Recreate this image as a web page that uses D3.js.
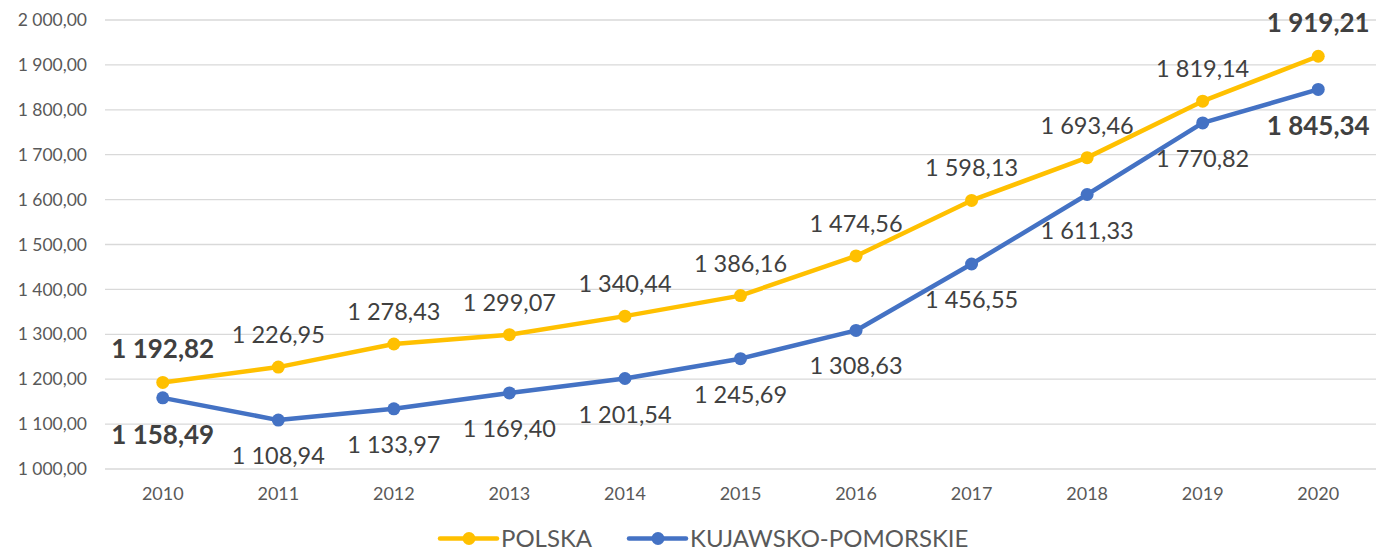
<!DOCTYPE html>
<html><head><meta charset="utf-8">
<script src="https://cdn.jsdelivr.net/npm/d3@7"></script>
<style>body{margin:0;background:#fff;} text{font-family:Lato,"Open Sans",sans-serif;}</style>
</head><body>
<svg id="c" width="1376" height="552"></svg>
<script>
const years = ["2010","2011","2012","2013","2014","2015","2016","2017","2018","2019","2020"];
const polska = [1192.82,1226.95,1278.43,1299.07,1340.44,1386.16,1474.56,1598.13,1693.46,1819.14,1919.21];
const kujawsko = [1158.49,1108.94,1133.97,1169.40,1201.54,1245.69,1308.63,1456.55,1611.33,1770.82,1845.34];
const yTicks = [1000,1100,1200,1300,1400,1500,1600,1700,1800,1900,2000];
const seriesNames = ["POLSKA","KUJAWSKO-POMORSKIE"];
const colors = ["#FFC000","#4472C4"];

(function(){
const svg = d3.select("#c");
const mLeft = 105, mRight = 1376, mTop = 20, mBottom = 469;
const x = d3.scaleBand().domain(years).range([mLeft, mRight]);
const y = d3.scaleLinear().domain([1000,2000]).range([mBottom, mTop]);

const fmt = v => {
  const s = v.toFixed(2).split(".");
  const intp = s[0].replace(/\B(?=(\d{3})+(?!\d))/g, " ");
  return intp + "," + s[1];
};

svg.append("g").selectAll("line").data(yTicks).join("line")
  .attr("x1", mLeft).attr("x2", mRight)
  .attr("y1", d => y(d)).attr("y2", d => y(d))
  .attr("stroke", "#d9d9d9").attr("stroke-width", 1.3);

const yAxis = d3.axisLeft(y).tickValues(yTicks).tickSize(0).tickPadding(18).tickFormat(fmt);
const ya = svg.append("g").attr("transform", `translate(${mLeft},0)`).call(yAxis);
ya.select(".domain").remove();
ya.selectAll("text").attr("font-size", 17.5).attr("fill", "#595959").style("font-family","Lato");

const xAxis = d3.axisBottom(x).tickSize(0).tickPadding(18);
const xa = svg.append("g").attr("transform", `translate(0,${mBottom})`).call(xAxis);
xa.select(".domain").remove();
xa.selectAll("text").attr("font-size", 18).attr("fill", "#595959").style("font-family","Lato")
  .attr("y", 31).attr("dy", 0);

const cx = d => x(d) + x.bandwidth()/2;
const data = [polska, kujawsko];
data.forEach((vals, si) => {
  const pts = years.map((yr,i)=>({yr, v: vals[i], edge: i===0 || i===years.length-1}));
  svg.append("path").datum(pts)
    .attr("d", d3.line().x(d=>cx(d.yr)).y(d=>y(d.v)))
    .attr("fill","none").attr("stroke", colors[si]).attr("stroke-width", 4.5)
    .attr("stroke-linejoin","round").attr("stroke-linecap","round");
  svg.append("g").selectAll("circle").data(pts).join("circle")
    .attr("cx", d=>cx(d.yr)).attr("cy", d=>y(d.v)).attr("r", 6.5)
    .attr("fill", colors[si]);
  svg.append("g").selectAll("text").data(pts).join("text")
    .attr("x", d=>cx(d.yr))
    .attr("y", d=> si===0 ? y(d.v) - 24 : y(d.v) + (d.edge ? 46 : 44))
    .attr("text-anchor","middle")
    .attr("font-size", d=> d.edge ? 26 : 23.5)
    .attr("font-weight", d=> d.edge ? "bold" : "normal")
    .attr("fill","#404040")
    .text(d=>fmt(d.v));
});

const legend = [{x:440, name:seriesNames[0], c:colors[0]},{x:629, name:seriesNames[1], c:colors[1]}];
const lg = svg.append("g");
const ly = 538.5;
legend.forEach(l=>{
  lg.append("line").attr("x1", l.x).attr("x2", l.x+57).attr("y1",ly).attr("y2",ly)
    .attr("stroke", l.c).attr("stroke-width",4.5).attr("stroke-linecap","round");
  lg.append("circle").attr("cx", l.x+29).attr("cy",ly).attr("r",6.5).attr("fill",l.c);
  lg.append("text").attr("x", l.x+61).attr("y",ly+8.2).attr("font-size",24).attr("fill","#595959").text(l.name);
});
})();
</script>
</body></html>
